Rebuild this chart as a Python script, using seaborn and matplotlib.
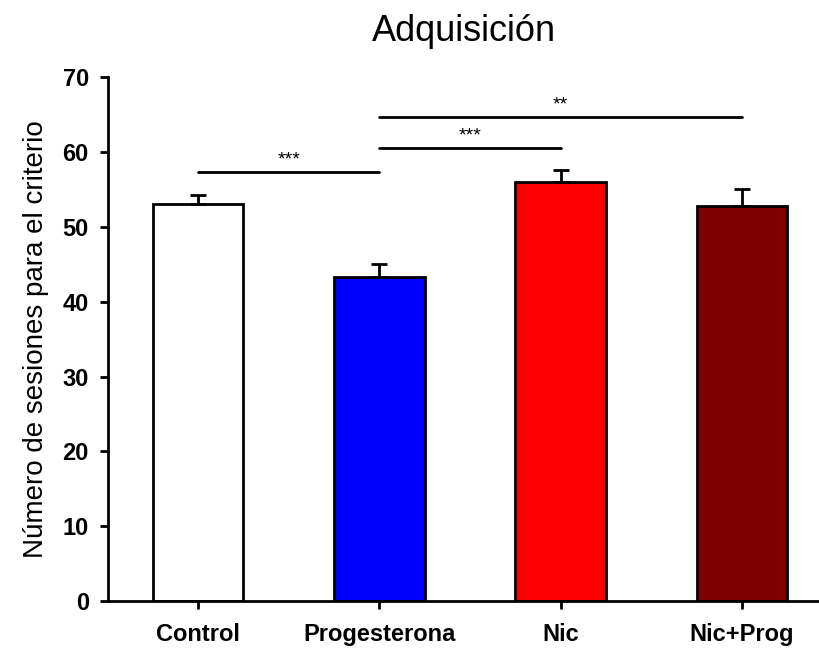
import pandas as pd
import seaborn as sns
import matplotlib.pyplot as plt

groups = ["Control", "Progesterona", "Nic", "Nic+Prog"]
means = [53.0, 43.3, 56.0, 52.8]
sems = [1.3, 1.7, 1.6, 2.2]
bar_colors = ["#FFFFFF", "#0000FF", "#FF0000", "#7F0000"]

# significance brackets: (from group, to group, height, label)
sig_pairs = [
    ("Control", "Progesterona", 57.4, "***"),
    ("Progesterona", "Nic", 60.6, "***"),
    ("Progesterona", "Nic+Prog", 64.7, "**"),
]

df = pd.DataFrame({"group": groups, "mean": means, "sem": sems})

sns.set_theme(style="ticks")
plt.rcParams["font.family"] = ["Liberation Sans", "DejaVu Sans"]
plt.rcParams["text.color"] = "black"
plt.rcParams["axes.labelcolor"] = "black"
plt.rcParams["xtick.color"] = "black"
plt.rcParams["ytick.color"] = "black"

fig = plt.figure(figsize=(8.2, 6.49), dpi=100)
ax = fig.add_axes([0.132, 0.074, 0.868, 0.807])

sns.barplot(
    data=df, x="group", y="mean", hue="group", palette=bar_colors,
    saturation=1, width=0.5, edgecolor="black", linewidth=2,
    legend=False, ax=ax,
)
ax.errorbar(
    range(len(groups)), df["mean"], yerr=[[0] * len(groups), df["sem"]],
    fmt="none", ecolor="black", elinewidth=2, capsize=6, capthick=2, zorder=3,
)

for a, b, h, label in sig_pairs:
    xa, xb = groups.index(a), groups.index(b)
    ax.plot([xa, xb], [h, h], color="black", lw=2)
    ax.text((xa + xb) / 2, h + 0.4, label, ha="center", va="bottom", fontsize=14)

ax.set_xlim(-0.496, 3.43)
ax.set_ylim(0, 70)
ax.set_yticks(range(0, 71, 10))
ax.set_xlabel("")
ax.set_ylabel("Número de sesiones para el criterio", fontsize=20, labelpad=10)
ax.set_title("Adquisición", fontsize=26, pad=26)
ax.tick_params(axis="both", direction="out", length=6, width=2, labelsize=17)
for lab in ax.get_xticklabels() + ax.get_yticklabels():
    lab.set_fontweight("bold")
ax.tick_params(axis="x", pad=10)
ax.tick_params(axis="y", pad=8)
sns.despine(ax=ax)
for s in ["left", "bottom"]:
    ax.spines[s].set_linewidth(2)
    ax.spines[s].set_color("black")

fig.savefig("out.png", dpi=100)
